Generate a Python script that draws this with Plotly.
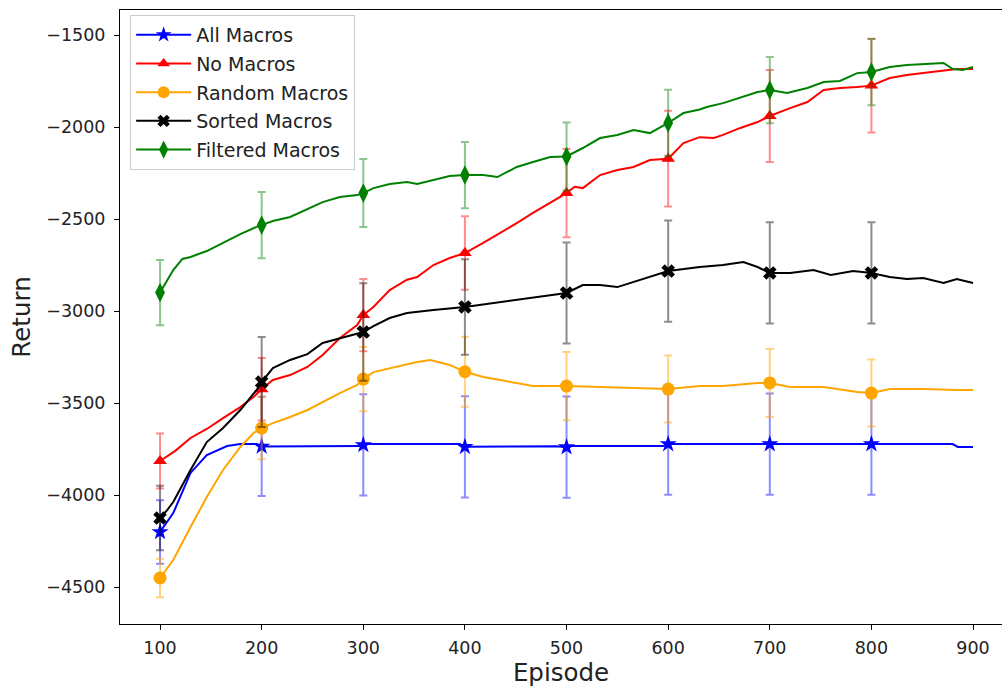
import plotly.graph_objects as go

# ---------------- data ----------------
all_ep = [100, 113, 130, 146, 166, 179, 195, 200, 298, 300, 302, 395, 400, 490, 500, 505, 595, 600, 700, 800, 880, 885, 900]
all_val = [-4201, -4098, -3880, -3783, -3734, -3723, -3723, -3736, -3734, -3728, -3723, -3723, -3738, -3735, -3740, -3734, -3734, -3723, -3723, -3723, -3723, -3739, -3739]

no_ep = [100, 106, 115, 130, 146, 162, 179, 192, 200, 211, 228, 245, 260, 277, 294, 300, 310, 326, 343, 353, 369, 385, 400,
         418, 435, 451, 467, 484, 500, 508, 516, 533, 550, 566, 582, 600, 615, 631, 645, 654, 671, 688, 700, 720, 737, 753,
         769, 786, 800, 818, 835, 851, 868, 884, 900]
no_val = [-3815, -3793, -3760, -3690, -3641, -3582, -3522, -3467, -3425, -3375, -3348, -3304, -3239, -3147, -3076, -3022,
          -2978, -2886, -2830, -2815, -2750, -2712, -2685, -2630, -2576, -2522, -2467, -2413, -2359, -2325, -2332, -2261,
          -2234, -2217, -2179, -2172, -2087, -2055, -2060, -2043, -2005, -1973, -1940, -1897, -1864, -1799, -1788, -1783,
          -1775, -1734, -1717, -1707, -1696, -1685, -1685]

rand_ep = [100, 113, 130, 146, 162, 179, 192, 200, 211, 228, 245, 260, 277, 294, 300, 310, 326, 343, 353, 366, 385, 400,
           418, 435, 451, 467, 500, 533, 566, 600, 631, 654, 688, 700, 720, 753, 786, 800, 818, 851, 884, 900]
rand_val = [-4451, -4353, -4174, -4011, -3864, -3739, -3663, -3636, -3609, -3576, -3538, -3495, -3446, -3402, -3370, -3332,
            -3310, -3290, -3277, -3266, -3293, -3330, -3359, -3375, -3391, -3408, -3408, -3413, -3418, -3424, -3408, -3408,
            -3391, -3391, -3413, -3413, -3440, -3446, -3424, -3424, -3429, -3429]

sort_ep = [100, 107, 113, 130, 146, 162, 179, 195, 200, 211, 228, 245, 260, 277, 300, 310, 326, 343, 356, 369, 400, 435,
           467, 500, 516, 533, 550, 566, 582, 600, 631, 654, 674, 688, 700, 720, 743, 760, 782, 800, 818, 835, 851, 871, 884, 900]
sort_val = [-4125, -4082, -4038, -3864, -3712, -3636, -3538, -3429, -3386, -3310, -3266, -3234, -3174, -3147, -3114, -3082,
            -3038, -3011, -3005, -2995, -2978, -2951, -2929, -2902, -2859, -2859, -2870, -2842, -2815, -2783, -2761, -2750,
            -2734, -2761, -2793, -2793, -2777, -2804, -2783, -2793, -2815, -2826, -2821, -2848, -2826, -2848]

filt_ep = [100, 106, 113, 122, 130, 146, 162, 179, 195, 200, 211, 228, 245, 260, 277, 294, 300, 310, 326, 343, 353, 369,
           385, 400, 418, 432, 451, 467, 484, 500, 516, 533, 550, 566, 582, 600, 615, 631, 638, 654, 671, 688, 700, 717,
           737, 753, 769, 786, 800, 818, 835, 851, 871, 880, 890, 900]
filt_val = [-2900, -2840, -2777, -2717, -2706, -2674, -2630, -2582, -2543, -2533, -2511, -2489, -2446, -2408, -2380, -2370,
            -2359, -2332, -2310, -2299, -2310, -2288, -2266, -2261, -2261, -2272, -2217, -2190, -2163, -2160, -2114, -2060,
            -2043, -2016, -2033, -1978, -1924, -1905, -1891, -1870, -1842, -1810, -1799, -1815, -1788, -1755, -1750, -1707,
            -1701, -1674, -1663, -1658, -1652, -1685, -1690, -1674]

marker_ep = [100, 200, 300, 400, 500, 600, 700, 800]
all_err = [172, 270, 275, 275, 275, 275, 275, 275]
no_err = [150, 170, 196, 200, 240, 260, 250, 255]
rand_err = [105, 170, 175, 190, 185, 182, 185, 182]
sort_err = [175, 245, 265, 260, 275, 275, 275, 275]
filt_err = [177, 180, 185, 180, 185, 180, 180, 180]

y_tickvals = [-4500, -4000, -3500, -3000, -2500, -2000, -1500]
y_ticktext = ["\u22124500", "\u22124000", "\u22123500", "\u22123000", "\u22122500", "\u22122000", "\u22121500"]
x_tickvals = [100, 200, 300, 400, 500, 600, 700, 800, 900]

series = [
    ("All Macros", all_ep, all_val, all_err, "#0000ff", "rgba(0,0,255,0.45)", "star", 13),
    ("No Macros", no_ep, no_val, no_err, "#ff0000", "rgba(255,0,0,0.45)", "triangle-up", 12),
    ("Random Macros", rand_ep, rand_val, rand_err, "#ffa500", "rgba(255,165,0,0.5)", "circle", 13),
    ("Sorted Macros", sort_ep, sort_val, sort_err, "#000000", "rgba(0,0,0,0.45)", "x", 12),
    ("Filtered Macros", filt_ep, filt_val, filt_err, "#008000", "rgba(0,128,0,0.45)", "diamond-tall", 14),
]

fig = go.Figure()
for name, ep, val, err, col, ecol, sym, size in series:
    fig.add_trace(go.Scatter(x=ep, y=val, mode="lines", line=dict(color=col, width=2),
                             showlegend=False, hoverinfo="skip"))
    my = [val[ep.index(e)] for e in marker_ep]
    fig.add_trace(go.Scatter(x=marker_ep, y=my, mode="markers",
                             marker=dict(symbol=sym, size=size, color=col, line=dict(width=0)),
                             error_y=dict(type="data", array=err, visible=True, color=ecol, thickness=2, width=4),
                             showlegend=False))

for name, ep, val, err, col, ecol, sym, size in series:
    fig.add_trace(go.Scatter(x=[None], y=[None], mode="lines+markers", name=name, legendgroup=name,
                             line=dict(color=col, width=2),
                             marker=dict(symbol=sym, size=size - 1, color=col, line=dict(width=0))))

fig.update_layout(
    width=1002, height=689,
    margin=dict(l=120, r=0, t=10, b=65),
    plot_bgcolor="white", paper_bgcolor="white",
    font=dict(family="DejaVu Sans", size=17.5, color="#222"),
    legend=dict(x=0.0115, y=0.992, xanchor="left", yanchor="top",
                bgcolor="rgba(255,255,255,0.85)", bordercolor="#cccccc", borderwidth=1,
                font=dict(family="DejaVu Sans", size=19, color="#222"),
                traceorder="grouped", tracegroupgap=1, itemwidth=55),
    xaxis=dict(range=[60.6, 928.5], tickvals=x_tickvals, ticks="outside", ticklen=5, tickcolor="black",
               showline=True, linecolor="black", linewidth=1, mirror=True, showgrid=False, zeroline=False,
               title=dict(text="Episode", font=dict(size=24.5), standoff=6),
               tickfont=dict(size=17.5), ticklabelstandoff=3),
    yaxis=dict(range=[-4701, -1364], tickvals=y_tickvals, ticktext=y_ticktext, ticks="outside", ticklen=5,
               tickcolor="black", showline=True, linecolor="black", linewidth=1, mirror=False, showgrid=False,
               zeroline=False, title=dict(text="Return", font=dict(size=24.5), standoff=8),
               tickfont=dict(size=17.5), ticklabelstandoff=5),
)

fig.write_html("out.html")
